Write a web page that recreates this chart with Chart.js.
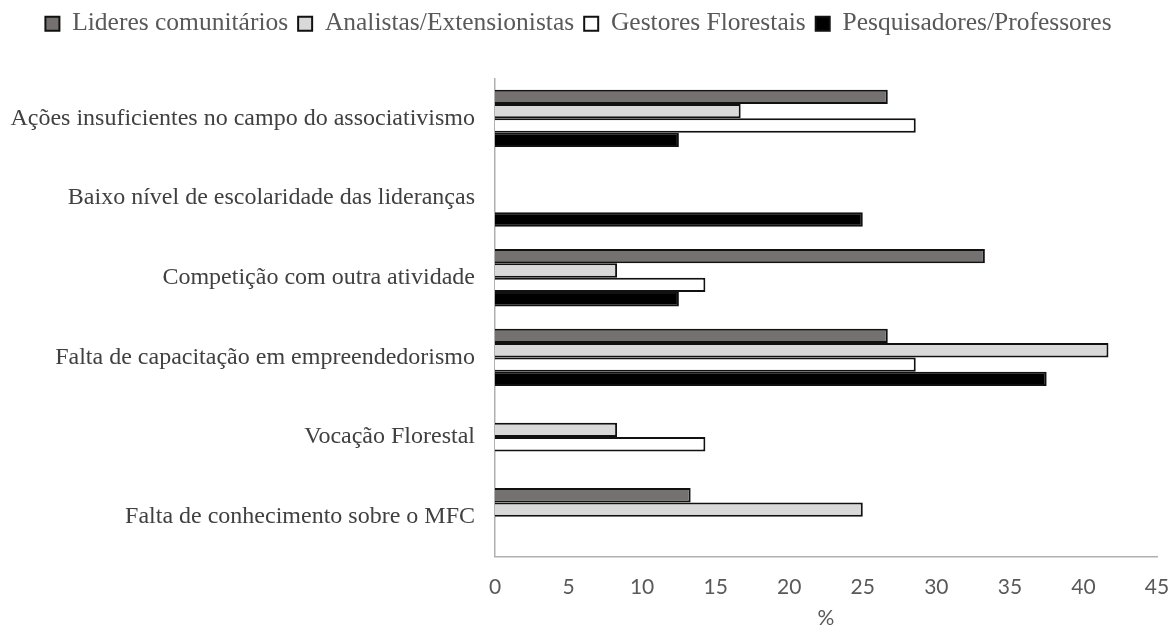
<!DOCTYPE html>
<html>
<head>
<meta charset="utf-8">
<script src="https://cdn.jsdelivr.net/npm/chart.js@4/dist/chart.umd.min.js"></script>
<style>
  body { margin: 0; background: #fff; }
  #wrap { width: 1171px; height: 631px; }
</style>
</head>
<body>
<div id="wrap"><canvas id="chart" width="1171" height="631"></canvas></div>
<script>
const categorias = [
  'Ações insuficientes no campo do associativismo',
  'Baixo nível de escolaridade das lideranças',
  'Competição com outra atividade',
  'Falta de capacitação em empreendedorismo',
  'Vocação Florestal',
  'Falta de conhecimento sobre o MFC'
];
const lideres = [26.7, 0, 33.3, 26.7, 0, 13.3];
const analistas = [16.7, 0, 8.3, 41.7, 8.3, 25];
const gestores = [28.6, 0, 14.3, 28.6, 14.3, 0];
const pesquisadores = [12.5, 25, 12.5, 37.5, 0, 0];
const xTicks = [0, 5, 10, 15, 20, 25, 30, 35, 40, 45];

// empty space between legend and plot
const legendGap = {
  id: 'legendGap',
  beforeInit(chart) {
    const fit = chart.legend.fit;
    chart.legend.fit = function () {
      fit.bind(chart.legend)();
      this.height += 32;
    };
  }
};

// zero values have no bar in the original
const semZero = arr => arr.map(v => (v === 0 ? null : v));

const barOpts = { borderColor: '#111', borderWidth: 2, categoryPercentage: 0.72, barPercentage: 1 };
const serif = '"Liberation Serif", "Times New Roman", serif';

new Chart(document.getElementById('chart').getContext('2d'), {
  type: 'bar',
  data: {
    labels: categorias,
    datasets: [
      { label: 'Lideres comunitários', data: semZero(lideres), backgroundColor: '#767171', ...barOpts },
      { label: 'Analistas/Extensionistas', data: semZero(analistas), backgroundColor: '#d9d9d9', ...barOpts },
      { label: 'Gestores Florestais', data: semZero(gestores), backgroundColor: '#ffffff', ...barOpts },
      { label: 'Pesquisadores/Professores', data: semZero(pesquisadores), backgroundColor: '#000000', ...barOpts }
    ]
  },
  plugins: [legendGap],
  options: {
    responsive: false,
    animation: false,
    indexAxis: 'y',
    layout: { padding: { top: 1, right: 14, bottom: 0, left: 0 } },
    plugins: {
      legend: {
        position: 'top',
        labels: {
          boxWidth: 14, boxHeight: 14, padding: 10,
          color: '#595959',
          font: { family: serif, size: 25.5 }
        }
      },
      tooltip: { enabled: false }
    },
    scales: {
      x: {
        min: 0, max: 45,
        afterBuildTicks(axis) { axis.ticks = xTicks.map(v => ({ value: v })); },
        afterFit(axis) { axis.paddingRight = 0; axis.paddingLeft = 0; },
        grid: { display: false },
        border: { color: '#b0b0b0', width: 1.5 },
        ticks: { color: '#595959', padding: 10, font: { family: 'Lato, sans-serif', size: 21 } },
        title: { display: true, text: '%', color: '#595959', padding: { top: -4, bottom: 0 }, font: { family: 'Lato, sans-serif', size: 21 } }
      },
      y: {
        grid: { display: false },
        border: { color: '#b0b0b0', width: 1.5 },
        afterFit(axis) { axis.width = 495; },
        ticks: { color: '#404040', padding: 12, autoSkip: false, font: { family: serif, size: 24 } }
      }
    }
  }
});
</script>
</body>
</html>
